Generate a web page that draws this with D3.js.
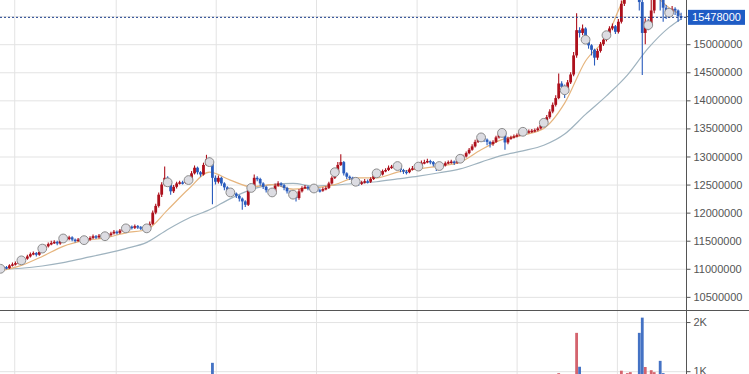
<!DOCTYPE html>
<html>
<head>
<meta charset="utf-8">
<script src="https://cdn.jsdelivr.net/npm/d3@7"></script>
<style>
  body { margin: 0; background: #fff; }
  svg { display: block; font-family: Arial, "Liberation Sans", sans-serif; }
</style>
</head>
<body>
<svg></svg>
<script>
// Svg size
const width = 749
const height = 374

// Prices are stored in units of 10,000 KRW
const UNIT = 10000

const opens = [
  1098,1100,1103,1101,1106,1108,1110, 1112,1115,1118,1122,1126,1128,1125,
  1130,1136,1140,1144,1146,1148,1145, 1150,1154,1153,1156,1152,1150,1152,
  1150,1151,1152,1155,1158,1156,1159, 1157,1158,1160,1163,1166,1164,1168,
  1170,1172,1175,1173,1176,1174,1172, 1171,1172,1180,1200,1212,1232,1250,
  1262,1254,1238,1246,1252,1254,1253, 1256,1258,1270,1280,1272,1268,1285,
  1295,1290,1262,1255,1262,1252,1245, 1238,1236,1234,1230,1225,1220,1214,
  1240,1244,1262,1260,1252,1246,1240, 1238,1236,1248,1252,1249,1244,1238,
  1234,1232,1226,1238,1244,1246,1243, 1240,1243,1240,1239,1242,1244,1252,
  1262,1272,1285,1290,1270,1264,1262, 1258,1255,1252,1254,1256,1255,1260,
  1266,1270,1268,1274,1276,1280,1282, 1284,1283,1276,1273,1272,1277,1279,
  1280,1282,1289,1290,1292,1290,1286, 1282,1283,1284,1288,1290,1291,1289,
  1292,1296,1300,1306,1312,1318,1326, 1332,1334,1330,1326,1322,1326,1334,
  1340,1342,1325,1332,1334,1336,1338, 1342,1344,1343,1345,1346,1347,1350,
  1356,1360,1370,1380,1392,1404,1430, 1424,1418,1432,1446,1480,1525,1520,
  1528,1508,1498,1490,1476,1488,1500, 1508,1516,1528,1532,1522,1540,1572,
  1600,1620,1632,1625,1610,1575,1520, 1540,1534,1560,1600,1610,1590,1565,
  1558,1556,1563,1560,1550
]
const highs = [
  1103,1105,1105,1108,1111,1113,1114, 1118,1121,1125,1129,1131,1130,1133,
  1139,1143,1147,1150,1151,1150,1153, 1157,1157,1159,1158,1154,1155,1154,
  1154,1155,1158,1161,1160,1162,1161, 1161,1163,1166,1169,1168,1171,1173,
  1175,1178,1177,1179,1178,1176,1175, 1176,1184,1204,1216,1236,1254,1282,
  1265,1256,1249,1255,1257,1257,1259, 1262,1274,1284,1282,1274,1289,1303,
  1298,1292,1266,1266,1264,1254,1247, 1240,1239,1236,1232,1227,1222,1243,
  1248,1268,1265,1262,1254,1248,1242, 1240,1252,1256,1254,1251,1246,1240,
  1236,1234,1242,1247,1249,1248,1245, 1246,1245,1243,1245,1247,1255,1265,
  1276,1290,1304,1292,1272,1266,1264, 1260,1257,1257,1260,1259,1263,1269,
  1273,1272,1277,1279,1284,1285,1287, 1287,1285,1278,1276,1280,1283,1284,
  1285,1293,1294,1296,1294,1292,1288, 1286,1287,1291,1293,1294,1293,1295,
  1299,1303,1309,1315,1322,1330,1336, 1338,1336,1332,1328,1329,1337,1343,
  1345,1344,1335,1337,1339,1341,1345, 1347,1347,1348,1349,1350,1353,1359,
  1364,1374,1384,1396,1409,1448,1434, 1428,1436,1450,1486,1555,1530,1535,
  1530,1510,1500,1492,1492,1504,1512, 1520,1532,1537,1534,1545,1578,1608,
  1630,1642,1640,1630,1614,1580,1546, 1545,1580,1610,1620,1614,1594,1570,
  1562,1568,1566,1562,1556
]
const lows = [
  1096,1098,1099,1100,1104,1106,1108, 1110,1113,1116,1120,1124,1122,1123,
  1128,1134,1138,1142,1144,1142,1143, 1148,1150,1151,1149,1147,1148,1147,
  1147,1149,1150,1153,1153,1154,1154, 1155,1156,1158,1161,1161,1162,1166,
  1168,1170,1170,1171,1171,1169,1168, 1168,1170,1178,1197,1209,1228,1247,
  1248,1232,1235,1243,1250,1250,1251, 1253,1256,1268,1268,1264,1266,1283,
  1286,1215,1250,1252,1248,1240,1234, 1232,1230,1226,1220,1205,1210,1212,
  1237,1242,1256,1248,1242,1236,1234, 1232,1234,1246,1246,1240,1234,1230,
  1228,1220,1223,1236,1242,1240,1237, 1238,1237,1236,1237,1240,1242,1250,
  1260,1270,1283,1266,1260,1258,1254, 1251,1248,1249,1252,1252,1253,1258,
  1264,1265,1266,1272,1274,1278,1280, 1280,1272,1269,1268,1270,1275,1276,
  1278,1280,1286,1288,1286,1282,1274, 1279,1280,1282,1286,1287,1285,1287,
  1290,1294,1298,1304,1310,1316,1324, 1330,1326,1320,1316,1319,1324,1332,
  1338,1312,1322,1330,1332,1334,1336, 1340,1340,1341,1342,1343,1345,1348,
  1354,1358,1367,1377,1389,1402,1418, 1404,1415,1429,1443,1476,1512,1516,
  1502,1492,1480,1462,1472,1485,1497, 1505,1513,1525,1518,1519,1537,1568,
  1596,1615,1618,1600,1560,1445,1500, 1525,1530,1555,1592,1560,1540,1545,
  1548,1550,1552,1540,1543
]
const closes = [
  1100,1103,1101,1106,1108,1110,1112, 1115,1118,1122,1126,1128,1125,1130,
  1136,1140,1144,1146,1148,1145,1150, 1154,1153,1156,1152,1150,1152,1150,
  1151,1152,1155,1158,1156,1159,1157, 1158,1160,1163,1166,1164,1168,1170,
  1172,1175,1173,1176,1174,1172,1171, 1172,1180,1200,1212,1232,1250,1262,
  1254,1238,1246,1252,1254,1253,1256, 1258,1270,1280,1272,1268,1285,1295,
  1290,1262,1255,1262,1252,1245,1238, 1236,1234,1230,1225,1220,1214,1240,
  1244,1262,1260,1252,1246,1240,1238, 1236,1248,1252,1249,1244,1238,1234,
  1232,1226,1238,1244,1246,1243,1240, 1243,1240,1239,1242,1244,1252,1262,
  1272,1285,1290,1270,1264,1262,1258, 1255,1252,1254,1256,1255,1260,1266,
  1270,1268,1274,1276,1280,1282,1284, 1283,1276,1273,1272,1277,1279,1280,
  1282,1289,1290,1292,1290,1286,1282, 1283,1284,1288,1290,1291,1289,1292,
  1296,1300,1306,1312,1318,1326,1332, 1334,1330,1326,1322,1326,1334,1340,
  1342,1325,1332,1334,1336,1338,1342, 1344,1343,1345,1346,1347,1350,1356,
  1360,1370,1380,1392,1404,1430,1424, 1418,1432,1446,1480,1525,1520,1528,
  1508,1498,1490,1476,1488,1500,1508, 1516,1528,1532,1522,1540,1572,1600,
  1620,1632,1625,1610,1575,1520,1540, 1534,1560,1600,1610,1590,1565,1558,
  1556,1563,1560,1550,1547.8
]
const volumes = [
  320,280,300,350,310,290,330, 340,360,380,410,350,300,390,
  420,400,380,360,340,300,390, 310,280,300,320,290,270,300,
  280,260,300,320,290,310,280, 300,290,330,350,300,340,360,
  380,400,350,360,330,300,290, 310,480,720,650,760,820,900,
  780,840,600,520,430,400,420, 450,560,620,580,500,690,870,
  760,1170,640,520,560,480,450, 420,380,400,430,520,610,700,
  520,680,560,480,430,400,380, 360,450,480,420,400,390,410,
  380,500,560,430,400,380,350, 340,330,320,360,380,450,520,
  640,780,880,720,560,460,420, 400,390,380,360,350,400,450,
  470,420,450,430,460,440,430, 400,460,420,380,400,420,410,
  430,500,470,450,440,460,480, 420,410,450,460,440,430,450,
  480,520,560,600,640,700,760, 680,620,600,640,580,620,660,
  580,780,600,520,480,460,500, 470,450,430,460,480,520,600,
  640,700,760,820,880,960,820, 760,860,900,940,1780,1090,880,
  920,860,800,940,820,760,700, 740,800,780,720,860,1010,940,
  960,980,920,900,1780,2090,1085, 940,1020,980,920,1210,960,880,
  820,760,720,780,700
]

// Moving averages at every 7th candle
const maIndex = [0,7,14,21,28,35,42,49,56,63,70,77,84,91,98,105,112,119,126,133,140,147,154,161,168,175,182,189,196,203,210,217,224,228]
const maShort = [1096,1106,1122,1140,1150,1155,1164,1170,1205,1242,1272,1258,1246,1250,1242,1244,1250,1262,1262,1272,1278,1283,1290,1312,1330,1338,1350,1395,1470,1512,1585,1592,1565,1552]
const maLong = [1099,1101,1105,1111,1119,1127,1136,1147,1170,1190,1205,1225,1241,1250,1252,1247,1249,1252,1255,1260,1265,1271,1278,1290,1302,1310,1320,1340,1375,1408,1445,1493,1530,1545]

// Round markers on the price line
const markerIndex = [0,7,14,21,28,35,42,49,56,63,70,77,84,91,98,105,112,119,126,133,140,147,154,161,168,175,182,189,196,203,210,217,224]

const priceTicks = [10500000,11000000,11500000,12000000,12500000,13000000,13500000,14000000,14500000,15000000,15500000]
const volumeTicks = [1000, 2000]
const gridIndex = [4.6, 38.6, 72.1, 105.7, 139.4, 172.9, 206.5]
const lastPrice = 15478000

// Colors
const red = "#ad101c"
const blue = "#2a5cbd"
const redVol = "#d4646e"
const blueVol = "#4472c4"
const gridColor = "#e3e3e3"
const axisColor = "#555"

const svg = d3.select("svg")
    .attr("width", width)
    .attr("height", height)

const axisX = 686
const priceBottom = 310
const barW = 2.8

// Scales
const xScale = d3.scaleLinear().domain([0, 250]).range([0.5, 0.5 + 250 * 2.985])
const yScale = d3.scaleLinear().domain([10266000, 15787000]).range([priceBottom, 0])
const vScale = d3.scaleLinear().domain([0, 2225]).range([420.3, 311])

const candles = closes.map((c, i) => ({
    i, o: opens[i] * UNIT, h: highs[i] * UNIT, l: lows[i] * UNIT, c: c * UNIT, v: volumes[i]
}))
const isUp = d => d.c >= d.o

// Clip regions
const defs = svg.append("defs")
defs.append("clipPath").attr("id", "clipPrice")
    .append("rect").attr("x", 0).attr("y", 0).attr("width", axisX).attr("height", priceBottom)
defs.append("clipPath").attr("id", "clipVol")
    .append("rect").attr("x", 0).attr("y", priceBottom + 1).attr("width", axisX).attr("height", height - priceBottom)

// Vertical grid
const xGrid = svg.append("g")
    .call(d3.axisTop(xScale).tickValues(gridIndex).tickSize(-height).tickFormat(""))
xGrid.selectAll(".domain").remove()
xGrid.selectAll("line").attr("stroke", gridColor)

// Horizontal grid - price
const yGrid = svg.append("g").attr("clip-path", "url(#clipPrice)")
    .call(d3.axisLeft(yScale).tickValues(priceTicks).tickSize(-axisX).tickFormat(""))
yGrid.selectAll(".domain").remove()
yGrid.selectAll("line").attr("stroke", gridColor)

// Horizontal grid - volume
const vGrid = svg.append("g")
    .call(d3.axisLeft(vScale).tickValues(volumeTicks).tickSize(-axisX).tickFormat(""))
vGrid.selectAll(".domain").remove()
vGrid.selectAll("line").attr("stroke", gridColor)

// Volume bars
svg.append("g").attr("clip-path", "url(#clipVol)")
    .selectAll("rect").data(candles).enter()
    .append("rect")
    .attr("x", d => xScale(d.i) - barW / 2)
    .attr("width", barW)
    .attr("y", d => vScale(d.v))
    .attr("height", d => vScale(0) - vScale(d.v))
    .attr("fill", d => isUp(d) ? redVol : blueVol)

const priceG = svg.append("g").attr("clip-path", "url(#clipPrice)")

// Moving averages
const maLine = values => d3.line()
    .x((d, k) => xScale(maIndex[k]))
    .y(d => yScale(d * UNIT))
    .curve(d3.curveMonotoneX)(values)

priceG.append("path")
    .attr("d", maLine(maLong))
    .attr("fill", "none")
    .attr("stroke", "#9fb3bf")
    .attr("stroke-width", 1.2)

priceG.append("path")
    .attr("d", maLine(maShort))
    .attr("fill", "none")
    .attr("stroke", "#e6b57e")
    .attr("stroke-width", 1.2)

// Candles
priceG.selectAll(".wick").data(candles).enter()
    .append("line")
    .attr("class", "wick")
    .attr("x1", d => xScale(d.i))
    .attr("x2", d => xScale(d.i))
    .attr("y1", d => yScale(d.h))
    .attr("y2", d => yScale(d.l))
    .attr("stroke", d => isUp(d) ? red : blue)
    .attr("stroke-width", 1.1)

priceG.selectAll(".body").data(candles).enter()
    .append("rect")
    .attr("class", "body")
    .attr("x", d => xScale(d.i) - barW / 2)
    .attr("width", barW)
    .attr("y", d => yScale(Math.max(d.o, d.c)))
    .attr("height", d => Math.max(1.5, Math.abs(yScale(d.o) - yScale(d.c))))
    .attr("fill", d => isUp(d) ? red : blue)

// Markers
priceG.selectAll("circle").data(markerIndex).enter()
    .append("circle")
    .attr("cx", i => xScale(i))
    .attr("cy", i => yScale(closes[i] * UNIT))
    .attr("r", 4.4)
    .attr("fill", "#dcdce2")
    .attr("stroke", "#8c8c8c")
    .attr("stroke-width", 1)

// Last price dashed line
svg.append("line")
    .attr("x1", 0).attr("x2", axisX)
    .attr("y1", yScale(lastPrice)).attr("y2", yScale(lastPrice))
    .attr("stroke", "#1d3f8c")
    .attr("stroke-dasharray", "2,2")

// Panel separator and axis line
svg.append("line")
    .attr("x1", 0).attr("x2", width)
    .attr("y1", priceBottom + 0.5).attr("y2", priceBottom + 0.5)
    .attr("stroke", axisColor)
svg.append("line")
    .attr("x1", axisX + 0.5).attr("x2", axisX + 0.5)
    .attr("y1", 0).attr("y2", height)
    .attr("stroke", axisColor)

// Price axis
const yAxisG = svg.append("g")
    .attr("transform", `translate(${axisX + 0.5}, 0)`)
    .call(d3.axisRight(yScale).tickValues(priceTicks).tickSize(4).tickPadding(3).tickFormat(d3.format("d")))
yAxisG.selectAll(".domain").remove()
yAxisG.selectAll("line").attr("stroke", axisColor)
yAxisG.selectAll("text")
    .attr("fill", axisColor)
    .attr("font-size", 11)
    .attr("font-family", "Arial, 'Liberation Sans', sans-serif")

// Volume axis
const vAxisG = svg.append("g")
    .attr("transform", `translate(${axisX + 0.5}, 0)`)
    .call(d3.axisRight(vScale).tickValues(volumeTicks).tickSize(4).tickPadding(3).tickFormat(d => d / 1000 + "K"))
vAxisG.selectAll(".domain").remove()
vAxisG.selectAll("line").attr("stroke", axisColor)
vAxisG.selectAll("text")
    .attr("fill", axisColor)
    .attr("font-size", 11)
    .attr("font-family", "Arial, 'Liberation Sans', sans-serif")

// Last price tag
const tagY = yScale(lastPrice)
svg.append("rect")
    .attr("x", 688).attr("y", tagY - 7.5)
    .attr("width", 57).attr("height", 15)
    .attr("fill", "#1f5cc5")
svg.append("text")
    .attr("x", 716.5).attr("y", tagY + 4)
    .attr("text-anchor", "middle")
    .attr("fill", "#fff")
    .attr("font-size", 11)
    .text(d3.format("d")(lastPrice))
</script>
</body>
</html>
